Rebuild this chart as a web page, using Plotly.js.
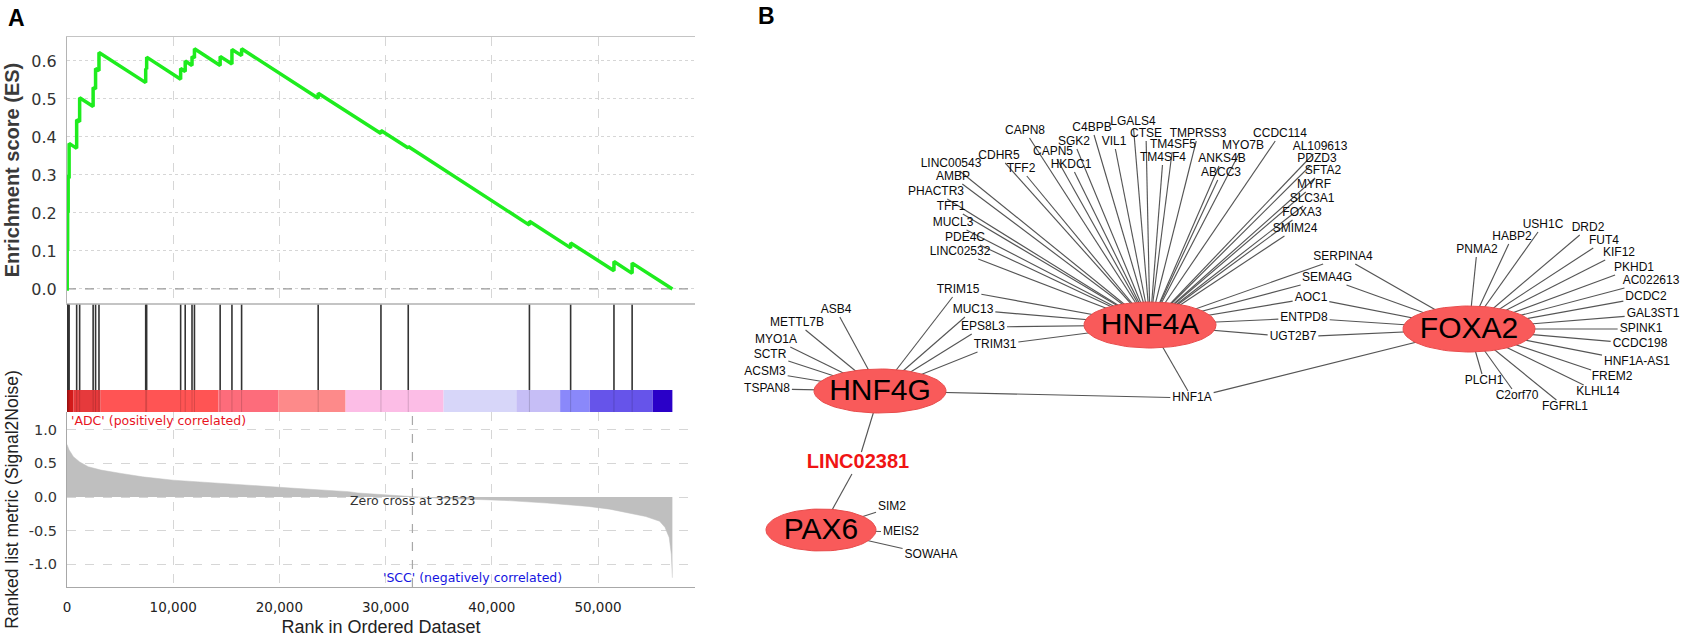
<!DOCTYPE html>
<html><head><meta charset="utf-8">
<script src="https://cdn.plot.ly/plotly-3.0.1.min.js"></script>
<style>html,body{margin:0;padding:0;background:#fff}#chart{width:1686px;height:642px}</style>
</head><body><div id="chart"></div>
<script>
// ---------------- Panel A data (GSEA) ----------------
const datasetSize = 57000;
const zeroCross = 32523;
const hitRanks = [20, 60, 110, 200, 910, 1190, 2460, 2690, 3010, 7410, 7500, 10700, 11130, 11770, 12000, 14420, 15530, 16440, 23650, 29560, 32130, 43540, 47420, 51500, 53210];
const esBefore = [0.0, 0.105, 0.205, 0.295, 0.370, 0.440, 0.480, 0.526, 0.574, 0.543, 0.578, 0.552, 0.572, 0.588, 0.608, 0.588, 0.592, 0.614, 0.502, 0.409, 0.371, 0.168, 0.108, 0.048, 0.041];
const esAfter  = [0.105, 0.205, 0.295, 0.383, 0.445, 0.503, 0.530, 0.580, 0.622, 0.580, 0.610, 0.580, 0.600, 0.612, 0.632, 0.612, 0.630, 0.632, 0.515, 0.417, 0.375, 0.178, 0.121, 0.072, 0.068];
const metricRank  = [0, 200, 600, 1200, 2000, 3200, 5100, 7100, 10000, 13500, 17400, 21400, 25400, 26500, 27400, 30000, 32523, 35000, 37200, 41200, 45200, 49100, 51100, 53100, 54500, 55800, 56300, 56700, 56900, 57000];
const metricValue = [0.78, 0.70, 0.60, 0.52, 0.45, 0.40, 0.35, 0.30, 0.25, 0.21, 0.17, 0.13, 0.09, 0.08, 0.06, 0.03, 0.0, -0.02, -0.03, -0.05, -0.09, -0.14, -0.18, -0.24, -0.29, -0.36, -0.45, -0.60, -0.85, -1.20];
const barBounds = [0, 600, 3170, 14260, 19890, 26230, 35460, 42310, 46430, 49210, 55150, 57000];
const barColors = ['#d21a1a', '#e63a3c', '#ff5454', '#fd6c7b', '#fd8a8a', '#fcbde6', '#d7d6f9', '#c6bef6', '#8a88fa', '#6654ea', '#2a00c8'];
const rankTicks = [0, 10000, 20000, 30000, 40000, 50000];
const esTicks = [0, 0.1, 0.2, 0.3, 0.4, 0.5, 0.6];
const metricTicks = [-1, -0.5, 0, 0.5, 1];
const posLabel = "'ADC' (positively correlated)";
const negLabel = "'SCC' (negatively correlated)";

// ---------------- Panel B data (network) ----------------
const hubNames = ['HNF4A', 'FOXA2', 'HNF4G', 'PAX6'];
const hnf4aTargets = ['LINC02532','PDE4C','MUCL3','TFF1','PHACTR3','AMBP','LINC00543','CDHR5','TFF2','CAPN8','CAPN5','HKDC1','SGK2','C4BPB','VIL1','LGALS4','CTSE','TM4SF4','TM4SF5','TMPRSS3','ANKS4B','ABCC3','MYO7B','CCDC114','AL109613','PDZD3','SFTA2','MYRF','SLC3A1','FOXA3','SMIM24','TRIM15','MUC13','EPS8L3','TRIM31','SERPINA4','SEMA4G','AOC1','ENTPD8','UGT2B7','HNF1A'];
const foxa2Targets = ['SERPINA4','SEMA4G','AOC1','ENTPD8','UGT2B7','HNF1A','PNMA2','HABP2','USH1C','DRD2','FUT4','KIF12','PKHD1','AC022613','DCDC2','GAL3ST1','SPINK1','CCDC198','HNF1A-AS1','FREM2','KLHL14','FGFRL1','C2orf70','PLCH1'];
const hnf4gTargets = ['ASB4','METTL7B','MYO1A','SCTR','ACSM3','TSPAN8','TRIM15','MUC13','EPS8L3','TRIM31','HNF1A','LINC02381'];
const pax6Targets = ['LINC02381','SIM2','MEIS2','SOWAHA'];
const highlightGene = 'LINC02381';

// ---------------- Layout (pixel positions of the drawing) ----------------
const W = 1686, H = 642;
const hubGeo = { HNF4A: [1150, 325, 66, 23], FOXA2: [1469, 329, 66, 23], HNF4G: [880, 391, 66, 22], PAX6: [821, 530, 55, 21] };
const labelXY = {
  LGALS4:[1133,122], C4BPB:[1092,128], CTSE:[1146,134], TMPRSS3:[1198,134], CAPN8:[1025,131], SGK2:[1074,142], VIL1:[1114,142],
  TM4SF5:[1173,145], MYO7B:[1243,146], CDHR5:[999,156], CAPN5:[1053,152], TM4SF4:[1163,158], ANKS4B:[1222,159], LINC00543:[951,164],
  HKDC1:[1071,165], TFF2:[1021,169], ABCC3:[1221,173], AMBP:[953,177], PHACTR3:[936,192], CCDC114:[1280,134], AL109613:[1320,147],
  PDZD3:[1317,159], SFTA2:[1323,171], MYRF:[1314,185], SLC3A1:[1312,199], FOXA3:[1302,213], SMIM24:[1295,229], TFF1:[951,207],
  MUCL3:[953,223], PDE4C:[965,238], LINC02532:[960,252], TRIM15:[958,290], MUC13:[973,310], EPS8L3:[983,327], TRIM31:[995,345],
  SERPINA4:[1343,257], SEMA4G:[1327,278], AOC1:[1311,298], ENTPD8:[1304,318], UGT2B7:[1293,337], HNF1A:[1192,398],
  ASB4:[836,310], METTL7B:[797,323], MYO1A:[776,340], SCTR:[770,355], ACSM3:[765,372], TSPAN8:[767,389], LINC02381:[858,463],
  SIM2:[892,507], MEIS2:[901,532], SOWAHA:[931,555],
  USH1C:[1543,225], DRD2:[1588,228], HABP2:[1512,237], FUT4:[1604,241], PNMA2:[1477,250], KIF12:[1619,253], PKHD1:[1634,268],
  AC022613:[1651,281], DCDC2:[1646,297], GAL3ST1:[1653,314], SPINK1:[1641,329], CCDC198:[1640,344], 'HNF1A-AS1':[1637,362],
  FREM2:[1612,377], KLHL14:[1598,392], FGFRL1:[1565,407], C2orf70:[1517,396], PLCH1:[1484,381]
};
const labelFont = 'Liberation Sans, Arial, sans-serif';

const px = v => v / W, py = v => 1 - v / H;
const xMax = 59130;

// ---- build GSEA traces ----
const esX = [0], esY = [0];
hitRanks.forEach((r, i) => { esX.push(r, r); esY.push(esBefore[i], esAfter[i]); });
esX.push(datasetSize); esY.push(0);

const hitX = [], hitY = [];
hitRanks.forEach(r => { hitX.push(r, r, null); hitY.push(0, 1, null); });

const barX = [], barW = [], barY = [];
for (let i = 0; i < barColors.length; i++) {
  barX.push((barBounds[i] + barBounds[i + 1]) / 2);
  barW.push(barBounds[i + 1] - barBounds[i]);
  barY.push(1);
}

const traces = [];
traces.push({ x: [0, xMax], y: [0, 0], xaxis: 'x', yaxis: 'y', mode: 'lines', line: { color: '#9a9a9a', width: 1.2, dash: 'dash' }, hoverinfo: 'skip' });
traces.push({ x: esX, y: esY, xaxis: 'x', yaxis: 'y', mode: 'lines', line: { color: '#1eec1e', width: 3.5 }, hoverinfo: 'skip' });
traces.push({ x: hitX, y: hitY, xaxis: 'x2', yaxis: 'y2', mode: 'lines', line: { color: '#333333', width: 1.6 }, hoverinfo: 'skip' });
traces.push({ type: 'bar', x: barX, y: barY, width: barW, base: 0, xaxis: 'x3', yaxis: 'y3', marker: { color: barColors, line: { width: 0 } }, hoverinfo: 'skip' });
traces.push({ x: hitX, y: hitY, xaxis: 'x3', yaxis: 'y3', mode: 'lines', line: { color: 'rgba(0,0,0,0.16)', width: 1 }, hoverinfo: 'skip' });
traces.push({ x: metricRank, y: metricValue, xaxis: 'x4', yaxis: 'y4', mode: 'lines', fill: 'tozeroy', fillcolor: '#bfbfbf', line: { color: '#bfbfbf', width: 0.5 }, hoverinfo: 'skip' });
traces.push({ x: [zeroCross, zeroCross], y: [-1.337, 1.263], xaxis: 'x4', yaxis: 'y4', mode: 'lines', line: { color: '#a8a8a8', width: 1.2, dash: 'dash' }, hoverinfo: 'skip' });

// ---- build network traces ----
const ctx = document.createElement('canvas').getContext('2d');
function textW(t, size, bold) { ctx.font = (bold ? 'bold ' : '') + size + 'px "Liberation Sans", Arial'; return ctx.measureText(t).width; }
function anchor(name, hub) {
  const [lx, ly] = labelXY[name];
  const [hx, hy] = hubGeo[hub];
  const big = name === highlightGene;
  const w = textW(name, big ? 20 : 12, big) / 2 + 2, h = big ? 11 : 7;
  const dx = hx - lx, dy = hy - ly;
  const tx = dx !== 0 ? w / Math.abs(dx) : Infinity, ty = dy !== 0 ? h / Math.abs(dy) : Infinity;
  const t = Math.min(tx, ty);
  return [lx + dx * t, ly + dy * t];
}
const edgeX = [], edgeY = [];
const hubTargets = { HNF4A: hnf4aTargets, FOXA2: foxa2Targets, HNF4G: hnf4gTargets, PAX6: pax6Targets };
hubNames.forEach(hub => {
  hubTargets[hub].forEach(g => {
    const a = anchor(g, hub);
    edgeX.push(a[0], hubGeo[hub][0], null);
    edgeY.push(a[1], hubGeo[hub][1], null);
  });
});
traces.push({ x: edgeX, y: edgeY, xaxis: 'x5', yaxis: 'y5', mode: 'lines', line: { color: '#555555', width: 1.15 }, hoverinfo: 'skip' });

hubNames.forEach(hub => {
  const [cx, cy, rx, ry] = hubGeo[hub];
  const xs = [], ys = [];
  for (let i = 0; i <= 90; i++) { const t = i / 90 * 2 * Math.PI; xs.push(cx + rx * Math.cos(t)); ys.push(cy + ry * Math.sin(t)); }
  traces.push({ x: xs, y: ys, xaxis: 'x5', yaxis: 'y5', mode: 'lines', fill: 'toself', fillcolor: '#f95a5a', line: { color: '#e84c4c', width: 1 }, hoverinfo: 'skip' });
});
traces.push({ x: hubNames.map(h => hubGeo[h][0]), y: hubNames.map(h => hubGeo[h][1] + 1), text: hubNames, xaxis: 'x5', yaxis: 'y5', mode: 'text', textposition: 'middle center', textfont: { family: labelFont, size: 30, color: '#000' }, cliponaxis: false, hoverinfo: 'skip' });

const geneNames = Object.keys(labelXY).filter(g => g !== highlightGene);
traces.push({ x: geneNames.map(g => labelXY[g][0]), y: geneNames.map(g => labelXY[g][1]), text: geneNames, xaxis: 'x5', yaxis: 'y5', mode: 'text', textposition: 'middle center', textfont: { family: labelFont, size: 12, color: '#0a0a0a' }, cliponaxis: false, hoverinfo: 'skip' });
traces.push({ x: [labelXY[highlightGene][0]], y: [labelXY[highlightGene][1]], text: ['<b>' + highlightGene + '</b>'], xaxis: 'x5', yaxis: 'y5', mode: 'text', textposition: 'middle center', textfont: { family: labelFont, size: 20, color: '#f01414' }, cliponaxis: false, hoverinfo: 'skip' });

const hidden = { visible: false, fixedrange: true };
const gridC = '#d6d6d6';
const layout = {
  width: W, height: H, margin: { l: 0, r: 0, t: 0, b: 0 }, paper_bgcolor: '#ffffff', plot_bgcolor: 'rgba(0,0,0,0)', showlegend: false,
  xaxis: { domain: [px(67), px(695)], range: [0, xMax], anchor: 'y', tickvals: rankTicks, showticklabels: false, ticks: '', showgrid: true, gridcolor: gridC, griddash: 'dash', zeroline: false, showline: true, linecolor: '#c4c4c4', linewidth: 1.5, mirror: true, fixedrange: true },
  yaxis: { domain: [py(303), py(37)], range: [-0.037, 0.663], anchor: 'x', tickvals: esTicks, ticktext: esTicks.map(v => v.toFixed(1)), tickfont: { family: 'DejaVu Sans', size: 16, color: '#333' }, ticks: 'outside', ticklen: 6, tickcolor: 'rgba(0,0,0,0)', showgrid: true, gridcolor: gridC, griddash: 'dot', zeroline: false, showline: true, linecolor: '#b4b4b4', fixedrange: true,
    title: { text: '<b>Enrichment score (ES)</b>', font: { family: labelFont, size: 20, color: '#3a3a3a' }, standoff: 6 } },
  xaxis2: Object.assign({ domain: [px(67), px(695)], range: [0, xMax], anchor: 'y2' }, hidden),
  yaxis2: Object.assign({ domain: [py(390), py(303)], range: [0, 1.02], anchor: 'x2' }, hidden),
  xaxis3: Object.assign({ domain: [px(67), px(695)], range: [0, xMax], anchor: 'y3' }, hidden),
  yaxis3: Object.assign({ domain: [py(412), py(390)], range: [0, 1], anchor: 'x3' }, hidden),
  xaxis4: { domain: [px(67), px(695)], range: [0, xMax], anchor: 'y4', tickvals: rankTicks, tickformat: ',', tickfont: { family: 'DejaVu Sans', size: 13.5, color: '#222' }, ticks: 'outside', ticklen: 8, tickcolor: 'rgba(0,0,0,0)', showgrid: true, gridcolor: gridC, griddash: 'dash', zeroline: false, showline: true, linecolor: '#a8a8a8', fixedrange: true,
    title: { text: 'Rank in Ordered Dataset', font: { family: labelFont, size: 18, color: '#222' }, standoff: 6 } },
  yaxis4: { domain: [py(587), py(412)], range: [-1.337, 1.263], anchor: 'x4', tickvals: metricTicks, ticktext: metricTicks.map(v => v.toFixed(1)), tickfont: { family: 'DejaVu Sans', size: 14.5, color: '#333' }, ticks: 'outside', ticklen: 6, tickcolor: 'rgba(0,0,0,0)', showgrid: true, gridcolor: gridC, griddash: 'dash', zeroline: false, showline: true, linecolor: '#a8a8a8', fixedrange: true,
    title: { text: 'Ranked list metric (Signal2Noise)', font: { family: labelFont, size: 17.5, color: '#222' }, standoff: 5 } },
  xaxis5: Object.assign({ domain: [0, 1], range: [0, W], anchor: 'y5' }, hidden),
  yaxis5: Object.assign({ domain: [0, 1], range: [H, 0], anchor: 'x5' }, hidden),
  annotations: [
    { text: '<b>A</b>', xref: 'paper', yref: 'paper', x: px(16), y: py(18), xanchor: 'center', yanchor: 'middle', showarrow: false, font: { family: labelFont, size: 23, color: '#000' } },
    { text: '<b>B</b>', xref: 'paper', yref: 'paper', x: px(766), y: py(16), xanchor: 'center', yanchor: 'middle', showarrow: false, font: { family: labelFont, size: 23, color: '#000' } },
    { text: posLabel, xref: 'x4', yref: 'y4', x: 150, y: 1.13, xanchor: 'left', yanchor: 'middle', showarrow: false, font: { family: 'DejaVu Sans', size: 12.5, color: '#e8141e' } },
    { text: 'Zero cross at ' + zeroCross, xref: 'x4', yref: 'y4', x: zeroCross, y: -0.045, xanchor: 'center', yanchor: 'middle', showarrow: false, font: { family: 'DejaVu Sans', size: 12.5, color: '#333' } },
    { text: negLabel, xref: 'x4', yref: 'y4', x: 38150, y: -1.19, xanchor: 'center', yanchor: 'middle', showarrow: false, font: { family: 'DejaVu Sans', size: 12.5, color: '#1414e0' } }
  ]
};
Plotly.newPlot('chart', traces, layout, { staticPlot: true, displayModeBar: false });
</script></body></html>
